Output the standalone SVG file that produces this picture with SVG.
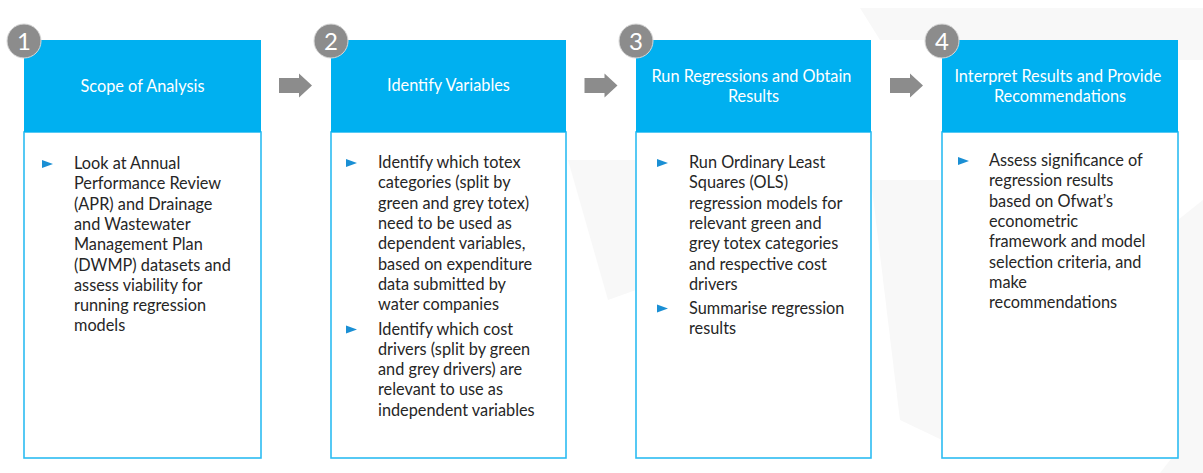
<svg xmlns="http://www.w3.org/2000/svg" width="1203" height="473" viewBox="0 0 1203 473">
  <defs>
    <style>
      .bg { fill: #f8f8f8; }
      .head { fill: #00b0f0; }
      .body { fill: #ffffff; stroke: #2cbcf2; stroke-width: 1.6; }
      .badge { fill: #8c8c8c; stroke: #d9d9d9; stroke-width: 1; }
      .num { font-family: Lato, "Liberation Sans", sans-serif; font-size: 24px; fill: #ffffff; text-anchor: middle; }
      .title { font-family: Lato, "Liberation Sans", sans-serif; font-size: 16.3px; fill: #ffffff; text-anchor: middle; }
      .txt { font-family: Lato, "Liberation Sans", sans-serif; font-size: 16.3px; fill: #262626; }
      .bullet { fill: #1a8fd4; }
      .arrow { fill: #8c8c8c; }
    </style>
    <polygon id="tri" points="0,-4 11,0 0,4"/>
    <polygon id="arr" points="0,-7.5 20,-7.5 20,-12 33,0 20,12 20,7.5 0,7.5"/>
  </defs>

  <rect width="1203" height="473" fill="#ffffff"/>

  <!-- faint background motif -->
  <g id="backdrop">
    <polygon class="bg" points="568,160 636,160 636,290 608,300"/>
    <polygon class="bg" points="770,8 1203,8 1203,60 1178,60 1178,40 880,40 860,8"/>
    <polygon class="bg" points="871,180 900,420 942,440 942,180"/>
    <polygon class="bg" points="1178,220 1203,200 1203,473 1160,473 1178,450"/>
  </g>

  <!-- step connectors -->
  <g id="connectors">
    <use href="#arr" class="arrow" x="279" y="85.5"/>
    <use href="#arr" class="arrow" x="584.5" y="85.5"/>
    <use href="#arr" class="arrow" x="890" y="85.5"/>
  </g>

  <!-- step 1 -->
  <g id="step1">
    <rect class="body" x="24" y="132" width="237" height="326"/>
    <rect class="head" x="24" y="40" width="237" height="92"/>
    <circle class="badge" cx="24" cy="41" r="17"/>
    <text class="num" x="24" y="49.5">1</text>
    <text class="title" x="142.5" y="91.5">Scope of Analysis</text>
    <use href="#tri" class="bullet" x="42" y="164"/>
    <text class="txt" x="74" y="169">
      <tspan x="74">Look at Annual</tspan>
      <tspan x="74" dy="20.3">Performance Review</tspan>
      <tspan x="74" dy="20.3">(APR) and Drainage</tspan>
      <tspan x="74" dy="20.3">and Wastewater</tspan>
      <tspan x="74" dy="20.3">Management Plan</tspan>
      <tspan x="74" dy="20.3">(DWMP) datasets and</tspan>
      <tspan x="74" dy="20.3">assess viability for</tspan>
      <tspan x="74" dy="20.3">running regression</tspan>
      <tspan x="74" dy="20.3">models</tspan>
    </text>
  </g>

  <!-- step 2 -->
  <g id="step2">
    <rect class="body" x="331" y="132" width="235" height="326"/>
    <rect class="head" x="331" y="40" width="235" height="92"/>
    <circle class="badge" cx="331" cy="41" r="17"/>
    <text class="num" x="331" y="49.5">2</text>
    <text class="title" x="448.5" y="90.5">Identify Variables</text>
    <use href="#tri" class="bullet" x="346" y="163"/>
    <text class="txt" x="378" y="168">
      <tspan x="378">Identify which totex</tspan>
      <tspan x="378" dy="20.3">categories (split by</tspan>
      <tspan x="378" dy="20.3">green and grey totex)</tspan>
      <tspan x="378" dy="20.3">need to be used as</tspan>
      <tspan x="378" dy="20.3">dependent variables,</tspan>
      <tspan x="378" dy="20.3">based on expenditure</tspan>
      <tspan x="378" dy="20.3">data submitted by</tspan>
      <tspan x="378" dy="20.3">water companies</tspan>
    </text>
    <use href="#tri" class="bullet" x="346" y="329.5"/>
    <text class="txt" x="378" y="334.5">
      <tspan x="378">Identify which cost</tspan>
      <tspan x="378" dy="20.3">drivers (split by green</tspan>
      <tspan x="378" dy="20.3">and grey drivers) are</tspan>
      <tspan x="378" dy="20.3">relevant to use as</tspan>
      <tspan x="378" dy="20.3">independent variables</tspan>
    </text>
  </g>

  <!-- step 3 -->
  <g id="step3">
    <rect class="body" x="636" y="132" width="235" height="326"/>
    <rect class="head" x="636" y="40" width="235" height="92"/>
    <circle class="badge" cx="636" cy="41" r="17"/>
    <text class="num" x="636" y="49.5">3</text>
    <text class="title" x="753.5" y="81.5">
      <tspan x="753.5">Run Regressions and Obtain</tspan>
      <tspan x="753.5" dy="20.3">Results</tspan>
    </text>
    <use href="#tri" class="bullet" x="657" y="163"/>
    <text class="txt" x="689" y="168">
      <tspan x="689">Run Ordinary Least</tspan>
      <tspan x="689" dy="20.3">Squares (OLS)</tspan>
      <tspan x="689" dy="20.3">regression models for</tspan>
      <tspan x="689" dy="20.3">relevant green and</tspan>
      <tspan x="689" dy="20.3">grey totex categories</tspan>
      <tspan x="689" dy="20.3">and respective cost</tspan>
      <tspan x="689" dy="20.3">drivers</tspan>
    </text>
    <use href="#tri" class="bullet" x="657" y="308.5"/>
    <text class="txt" x="689" y="313.5">
      <tspan x="689">Summarise regression</tspan>
      <tspan x="689" dy="20.3">results</tspan>
    </text>
  </g>

  <!-- step 4 -->
  <g id="step4">
    <rect class="body" x="942" y="132" width="236" height="326"/>
    <rect class="head" x="942" y="40" width="236" height="92"/>
    <circle class="badge" cx="942" cy="41" r="17"/>
    <text class="num" x="942" y="49.5">4</text>
    <text class="title" x="1060" y="81.5">
      <tspan x="1060">Interpret Results and Provide</tspan>
      <tspan x="1060" dy="20.3">Recommendations</tspan>
    </text>
    <use href="#tri" class="bullet" x="958" y="161"/>
    <text class="txt" x="989" y="166">
      <tspan x="989">Assess significance of</tspan>
      <tspan x="989" dy="20.3">regression results</tspan>
      <tspan x="989" dy="20.3">based on Ofwat’s</tspan>
      <tspan x="989" dy="20.3">econometric</tspan>
      <tspan x="989" dy="20.3">framework and model</tspan>
      <tspan x="989" dy="20.3">selection criteria, and</tspan>
      <tspan x="989" dy="20.3">make</tspan>
      <tspan x="989" dy="20.3">recommendations</tspan>
    </text>
  </g>
</svg>
